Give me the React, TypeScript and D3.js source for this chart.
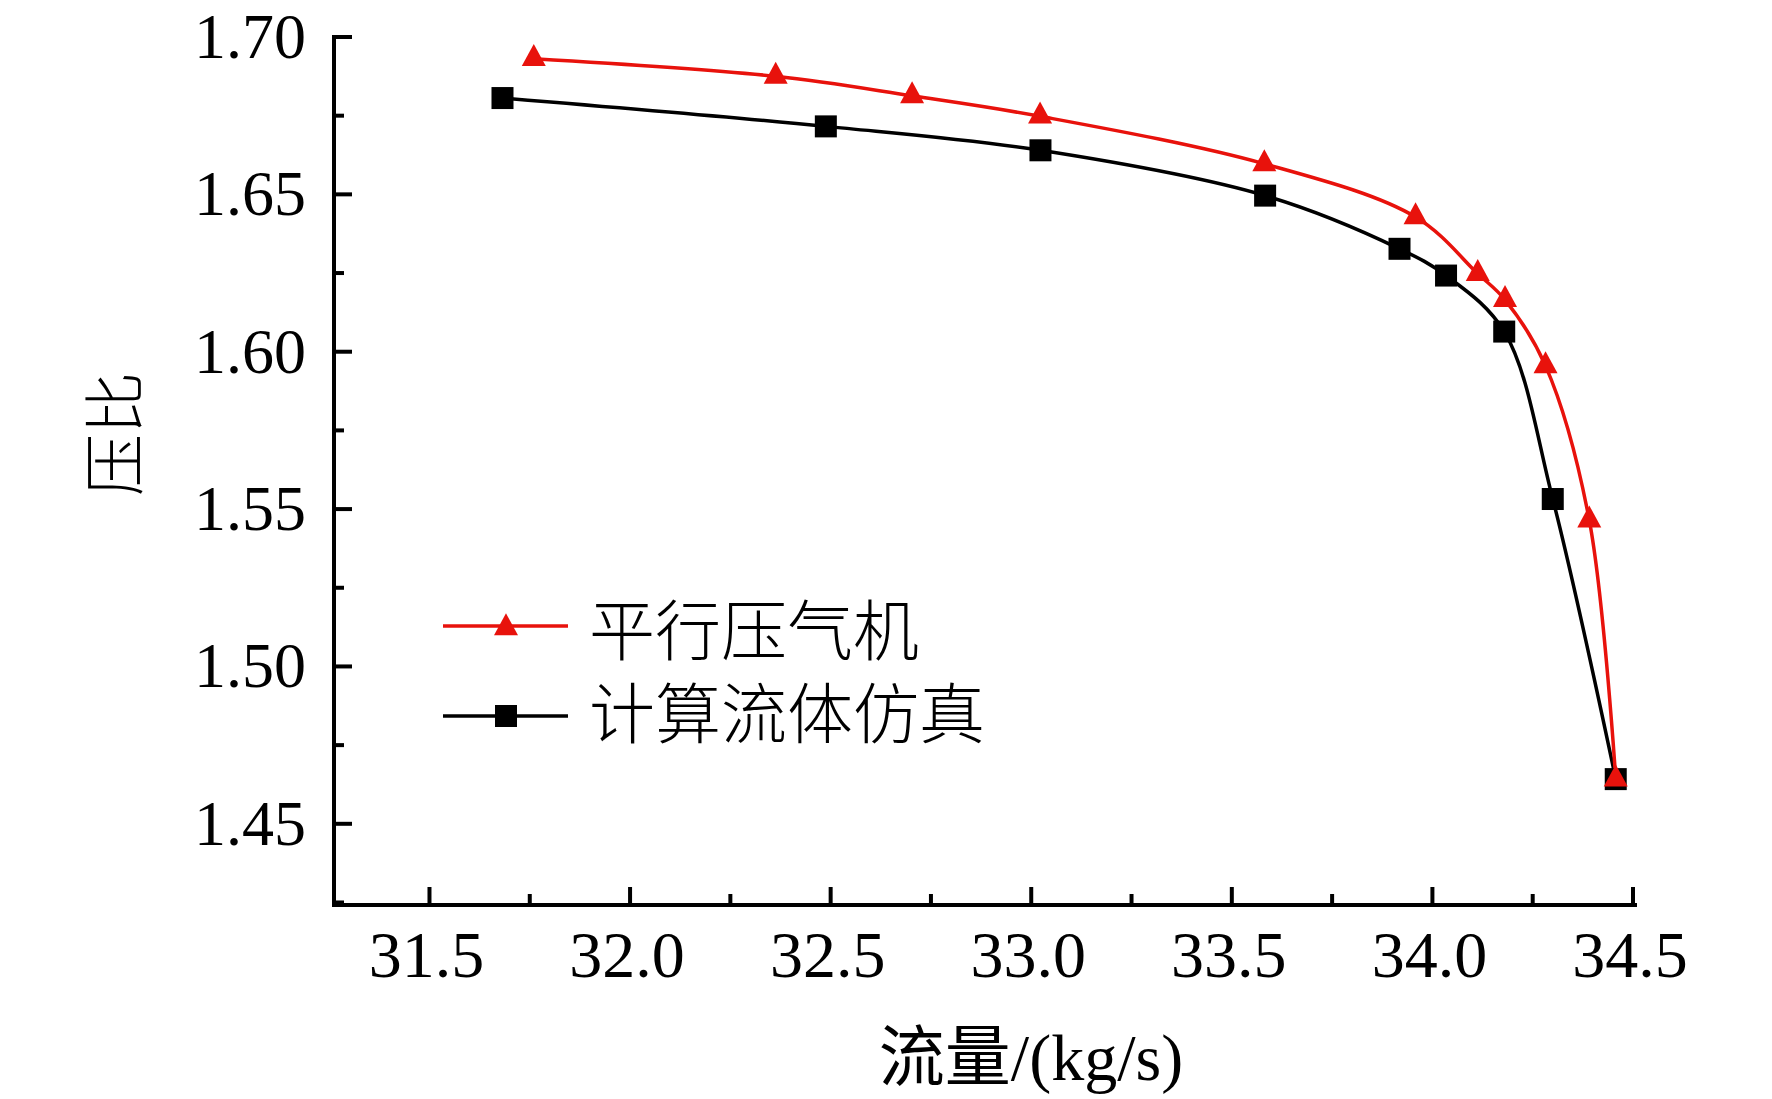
import * as d3 from 'd3';

// 压比 vs 流量, two series
const flowParallel = [31.76, 32.363, 32.703, 33.022, 33.581, 33.958, 34.113, 34.181, 34.282, 34.391, 34.457];
const ratioParallel = [1.6931, 1.6875, 1.6813, 1.6748, 1.6597, 1.6428, 1.6248, 1.6165, 1.5955, 1.5465, 1.4642];

const flowCfd = [31.682, 32.488, 33.023, 33.583, 33.918, 34.034, 34.179, 34.3, 34.457];
const ratioCfd = [1.6806, 1.6716, 1.664, 1.6496, 1.6327, 1.6242, 1.6064, 1.5532, 1.4642];

const xMajorTicks = [31.5, 32.0, 32.5, 33.0, 33.5, 34.0, 34.5];
const xMinorTicks = [31.75, 32.25, 32.75, 33.25, 33.75, 34.25];
const yMajorTicks = [1.45, 1.5, 1.55, 1.6, 1.65, 1.7];
const yMinorTicks = [1.425, 1.475, 1.525, 1.575, 1.625, 1.675];

const seriesNames = ['平行压气机', '计算流体仿真'];

const W = 1772;
const H = 1099;
const RED = '#e8120c';
const NUM_FONT = "'Times New Roman', 'Liberation Serif', 'Noto Sans CJK SC', serif";
const CJK_FONT = "'Liberation Serif', 'Noto Sans CJK SC', sans-serif";

function Triangle({ x, y, fill }: { x: number; y: number; fill: string }) {
  return <path d={`M${x},${y - 14.7}L${x + 12},${y + 7.3}L${x - 12},${y + 7.3}Z`} fill={fill} />;
}

function Square({ x, y, fill }: { x: number; y: number; fill: string }) {
  return <rect x={x - 11} y={y - 11} width={22} height={22} fill={fill} />;
}

export default function App() {
  const left = 334;
  const right = 1635;
  const top = 37;
  const bottom = 905;

  const x = d3.scaleLinear().domain([31.262, 34.505]).range([left, right]);
  const y = d3.scaleLinear().domain([1.4242, 1.7]).range([bottom, top]);

  const line = d3
    .line<[number, number]>()
    .x((d) => x(d[0]))
    .y((d) => y(d[1]))
    .curve(d3.curveCatmullRom.alpha(0.5));

  const parallel: [number, number][] = flowParallel.map((f, i) => [f, ratioParallel[i]]);
  const cfd: [number, number][] = flowCfd.map((f, i) => [f, ratioCfd[i]]);

  return (
    <svg
      width={W}
      height={H}
      style={{ position: 'absolute', left: 0, top: 0, background: '#fff' }}
    >
      <rect width={W} height={H} fill="#fff" />

      {/* axes */}
      <line x1={left} x2={left} y1={top - 2} y2={bottom + 2} stroke="#000" strokeWidth={4} />
      <line x1={left - 2} x2={right + 2} y1={bottom} y2={bottom} stroke="#000" strokeWidth={4} />

      {yMajorTicks.map((t) => (
        <g key={`ym${t}`}>
          <line x1={left} x2={left + 18} y1={y(t)} y2={y(t)} stroke="#000" strokeWidth={4} />
          <text
            x={306}
            y={y(t) + 21}
            textAnchor="end"
            fontFamily={NUM_FONT}
            fontSize={64}
          >
            {t.toFixed(2)}
          </text>
        </g>
      ))}
      {yMinorTicks.map((t) => (
        <line key={`yn${t}`} x1={left} x2={left + 10} y1={y(t)} y2={y(t)} stroke="#000" strokeWidth={4} />
      ))}

      {xMajorTicks.map((t) => (
        <g key={`xm${t}`}>
          <line x1={x(t)} x2={x(t)} y1={bottom} y2={bottom - 18} stroke="#000" strokeWidth={4} />
          <text x={x(t) - 3} y={bottom + 72} textAnchor="middle" fontFamily={NUM_FONT} fontSize={66}>
            {t.toFixed(1)}
          </text>
        </g>
      ))}
      {xMinorTicks.map((t) => (
        <line key={`xn${t}`} x1={x(t)} x2={x(t)} y1={bottom} y2={bottom - 11} stroke="#000" strokeWidth={4} />
      ))}

      {/* axis titles */}
      <text x={1031} y={1080} textAnchor="middle" fontFamily={NUM_FONT} fontSize={66}>
        流量/(kg/s)
      </text>
      <text
        transform="translate(138,434) rotate(-90)"
        textAnchor="middle"
        fontFamily={CJK_FONT}
        fontSize={62}
        fontWeight={300}
      >
        压比
      </text>

      {/* series */}
      <path d={line(cfd) ?? ''} fill="none" stroke="#000" strokeWidth={3.5} />
      <path d={line(parallel) ?? ''} fill="none" stroke={RED} strokeWidth={3.5} />
      {cfd.map((d, i) => (
        <Square key={`s${i}`} x={x(d[0])} y={y(d[1])} fill="#000" />
      ))}
      {parallel.map((d, i) => (
        <Triangle key={`t${i}`} x={x(d[0])} y={y(d[1])} fill={RED} />
      ))}

      {/* legend */}
      <line x1={443} x2={568} y1={626} y2={626} stroke={RED} strokeWidth={3.5} />
      <Triangle x={506} y={628} fill={RED} />
      <text x={589} y={655} fontFamily={CJK_FONT} fontSize={66} fontWeight={300}>
        {seriesNames[0]}
      </text>
      <line x1={443} x2={568} y1={716} y2={716} stroke="#000" strokeWidth={3.5} />
      <Square x={506} y={716} fill="#000" />
      <text x={589} y={738} fontFamily={CJK_FONT} fontSize={66} fontWeight={300}>
        {seriesNames[1]}
      </text>
    </svg>
  );
}
